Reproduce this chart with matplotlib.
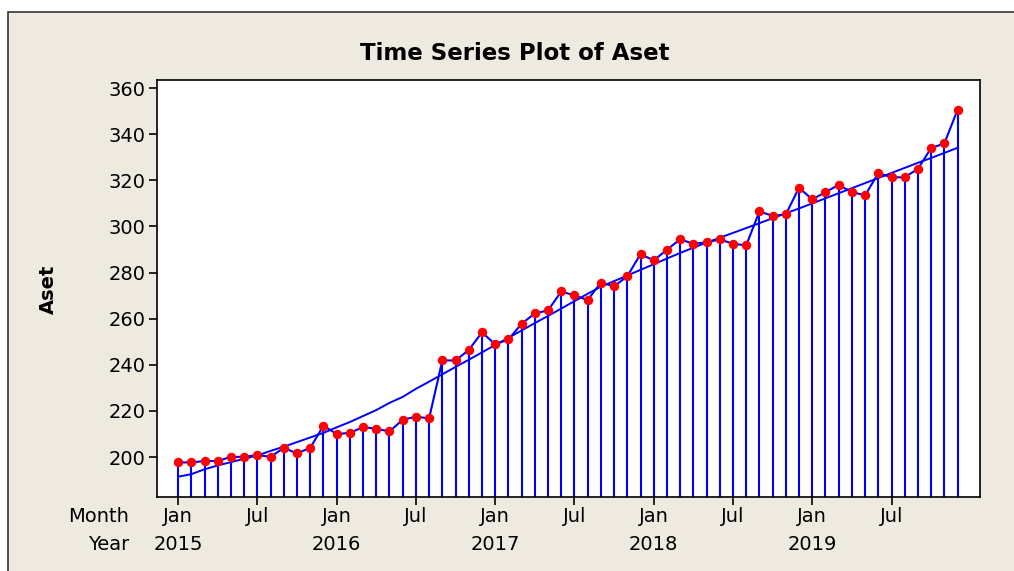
import numpy as np
import matplotlib.pyplot as plt
from matplotlib.patches import Rectangle

# ----------------------------

years = ["2015", "2016", "2017", "2018", "2019"]

aset = [
    197.7, 197.7, 198.3, 198.3, 200.1, 200.1, 200.9, 200.1, 204.0, 201.6, 204.0, 213.6,
    210.0, 210.5, 213.0, 212.3, 211.1, 216.2, 217.5, 216.8, 241.9, 241.9, 246.4, 254.1,
    248.9, 251.0, 257.8, 262.3, 263.6, 271.8, 270.1, 268.1, 275.7, 274.0, 278.4, 288.0,
    285.3, 289.9, 294.4, 292.5, 293.1, 294.4, 292.5, 291.8, 306.5, 304.6, 305.2, 316.8,
    311.7, 314.9, 318.0, 314.9, 313.5, 323.1, 321.3, 321.3, 325.0, 334.0, 336.0, 350.6,
]

trend = [
    191.5, 192.6, 194.7, 196.4, 197.8, 199.3, 200.7, 202.7, 204.5, 206.5, 208.5, 210.5,
    212.9, 215.2, 217.8, 220.4, 223.5, 226.1, 229.6, 232.7, 235.9, 239.1, 242.2, 245.4,
    248.6, 251.7, 254.9, 258.1, 261.2, 264.4, 267.6, 270.8, 273.9, 276.3, 278.7, 281.2,
    283.6, 286.1, 288.5, 290.8, 293.0, 295.1, 297.2, 299.3, 301.4, 303.6, 305.7, 307.8,
    310.0, 312.2, 314.4, 316.6, 318.8, 321.0, 323.2, 325.4, 327.6, 329.7, 331.9, 334.1,
]

month_names = ["Jan", "Jul"]
yticks = [200, 220, 240, 260, 280, 300, 320, 340, 360]

# ----------------------------

BEIGE = "#EEEAE0"
BLUE = "#0000FF"
FS = 14

t = np.arange(len(aset))

fig = plt.figure(figsize=(10.14, 5.71), dpi=100, facecolor="white")
fig.patches.append(Rectangle((8 / 1014, -0.05), 1.0, 1.05 - 12 / 571,
                             transform=fig.transFigure, facecolor=BEIGE,
                             edgecolor="#333333", linewidth=1.2, zorder=-10))

ax = fig.add_axes([0.1548, 0.1296, 0.8117, 0.7303])
ax.set_facecolor("white")
ax.set_xlim(-1.6, 60.7)
ax.set_ylim(182.7, 363.5)

ybot = ax.get_ylim()[0]
ax.vlines(t, ybot, aset, color=BLUE, linewidth=1.5, zorder=2)
ax.plot(t, trend, color=BLUE, linewidth=1.4, zorder=3)
ax.plot(t, aset, color=BLUE, linewidth=1.5, zorder=3)
ax.plot(t, aset, "o", color="#FF0000", markersize=6.8, markeredgewidth=0, zorder=4)

for s in ax.spines.values():
    s.set_linewidth(1.2)
    s.set_color("black")

ax.set_yticks(yticks)
ax.tick_params(axis="both", direction="out", length=5.5, width=1.2,
               labelsize=FS, pad=3, colors="black")
ax.tick_params(axis="x", pad=2)

xt = [i for i in range(len(aset)) if i % 6 == 0]
ax.set_xticks(xt)
ax.set_xticklabels([month_names[(i // 6) % 2] for i in xt])

for k, yr in enumerate(years):
    ax.annotate(yr, xy=(k * 12, 0), xycoords=("data", "axes fraction"),
                xytext=(0, -34), textcoords="offset points",
                ha="center", va="center", fontsize=FS)

fig.text(129 / 1014, 1 - 517 / 571, "Month", ha="right", va="center", fontsize=FS)
fig.text(129 / 1014, 1 - 544 / 571, "Year", ha="right", va="center", fontsize=FS)

fig.text(515 / 1014, 1 - 53 / 571, "Time Series Plot of Aset", ha="center",
         va="center", fontsize=16.5, fontweight="bold")
fig.text(48 / 1014, 1 - 289 / 571, "Aset", rotation=90, ha="center", va="center",
         fontsize=FS, fontweight="bold")

plt.savefig("out.png", dpi=100, facecolor=fig.get_facecolor())
